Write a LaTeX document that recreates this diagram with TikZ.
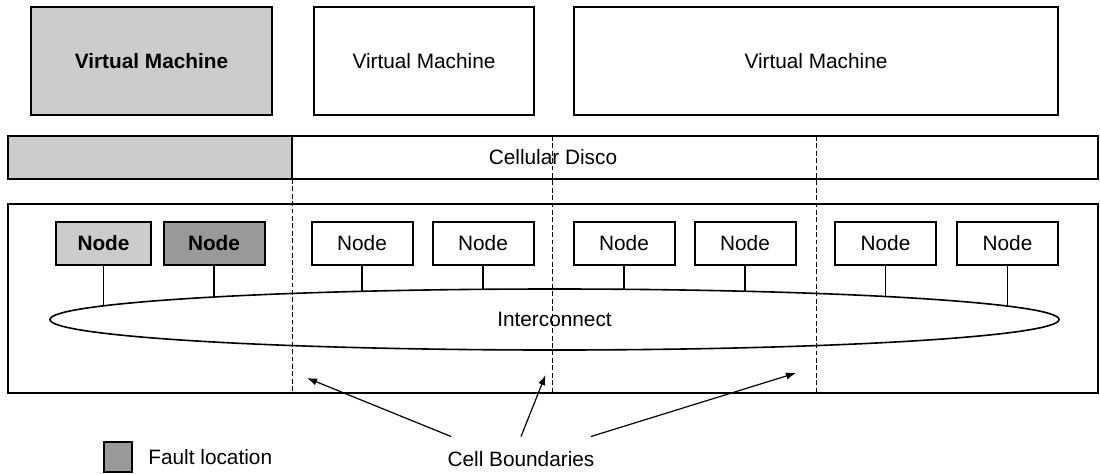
\documentclass[tikz,border=0pt]{standalone}
\usepackage{fontspec}
\setmainfont{Liberation Sans}
\usetikzlibrary{positioning,arrows.meta,shapes.geometric,calc}
\definecolor{cellgray}{gray}{0.8}
\definecolor{faultgray}{gray}{0.6}
\begin{document}
\begin{tikzpicture}[x=0.5pt,y=-0.5pt,font=\fontsize{10.4}{12}\selectfont,>={Latex[length=5pt,width=3.6pt]}]
\tikzstyle{vm}=[draw,line width=1pt,minimum height=54pt,inner sep=0pt,outer sep=0pt]
\tikzstyle{nd}=[draw,line width=1pt,minimum width=50.5pt,minimum height=21.5pt,inner sep=0pt,outer sep=0pt]
\tikzstyle{layer}=[draw,line width=1pt,minimum width=545pt,inner sep=0pt,outer sep=0pt]
\tikzstyle{bnd}=[line width=0.5pt,dash pattern=on 2.4pt off 1.3pt]
\useasboundingbox (0,0) rectangle (1100,473);
% virtual machines
\node[vm,fill=cellgray,minimum width=120.5pt] (vm1) at (151.5,61) {\textbf{Virtual Machine}};
\node[vm,minimum width=110pt] (vm2) at (424,61) {Virtual Machine};
\node[vm,minimum width=242pt] (vm3) at (816,61) {Virtual Machine};
% cellular disco and hardware
\node[layer,minimum height=21.5pt] (cd) at (553,157.5) {Cellular Disco};
\node[layer,minimum height=94.5pt] (hw) at (553,298.5) {};
\coordinate (b1) at (292,136);
\coordinate (b2) at (552,136);
\coordinate (b3) at (816,136);
\draw[line width=1pt,fill=cellgray] (cd.north west) rectangle (cd.south -| b1);
\node[nd,fill=cellgray,minimum width=47.5pt] (n1) at (103.5,243.5) {\textbf{Node}};
\node[nd,fill=faultgray] (n2) at (214,243.5) {\textbf{Node}};
\node[nd] (n3) at (362,243.5) {Node};
\node[nd] (n4) at (483,243.5) {Node};
\node[nd] (n5) at (624,243.5) {Node};
\node[nd] (n6) at (745,243.5) {Node};
\node[nd] (n7) at (885.5,243.5) {Node};
\node[nd] (n8) at (1007.5,243.5) {Node};
\node[draw,ellipse,line width=0.8pt,minimum width=504.5pt,minimum height=30.5pt,
  inner sep=0pt,outer sep=0pt] (ic) at (554.5,319.5) {Interconnect};
\foreach \i in {1,...,8}
  \draw[line width=0.6pt] let \p1=(n\i.south), \p2=(ic.center) in
    (n\i.south) -- (\x1,{(\y2+15.25*sqrt(1-((\x1-\x2)/252.25)^2))*1pt});
% cell boundaries
\draw[bnd] (b1 |- cd.south) -- (b1 |- hw.south);
\draw[bnd] (b2) -- (b2 |- hw.south);
\draw[bnd] (b3) -- (b3 |- hw.south);
\coordinate (t1) at (307,378);
\coordinate (t2) at (545.5,375);
\coordinate (t3) at (796,373);
\node[inner xsep=0pt,inner ysep=7pt,anchor=base] (cb) at (521,466) {Cell Boundaries};
\draw[->,line width=0.6pt] ([xshift=2pt]cb.north west) -- (t1);
\draw[->,line width=0.6pt] (cb.north) -- (t2);
\draw[->,line width=0.6pt] ([xshift=-2pt]cb.north east) -- (t3);
% legend
\node[draw,line width=1pt,fill=faultgray,minimum width=14pt,minimum height=15pt,inner sep=0pt] (lg) at (118,457) {};
\node[right=7.5pt of lg,inner sep=0pt] (lgt) {Fault location};
\end{tikzpicture}
\end{document}
